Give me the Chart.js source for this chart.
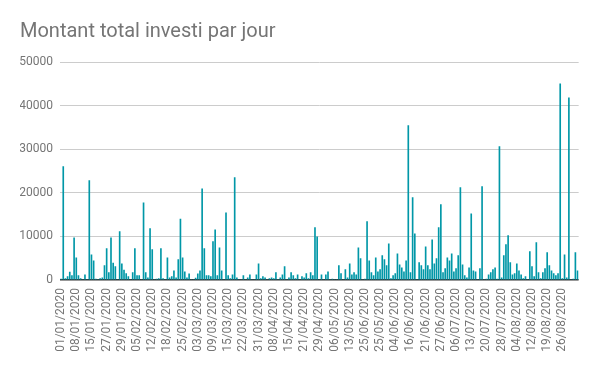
<!DOCTYPE html>
<html>
<head>
<meta charset="utf-8">
<title>Montant total investi par jour</title>
<script src="https://cdn.jsdelivr.net/npm/chart.js@4.4.1/dist/chart.umd.min.js"></script>
<style>
  html, body { margin: 0; padding: 0; background: #ffffff; }
  #wrap { width: 600px; height: 371px; }
</style>
</head>
<body>
<div id="wrap"><canvas id="chart" width="600" height="371"></canvas></div>
<script>
// Dates shown on the x axis (one label every 7 rows, as in the sheet)
const tickDates = [
    '01/01/2020', '08/01/2020', '15/01/2020', '27/01/2020', '29/01/2020', '05/02/2020',
    '12/02/2020', '18/02/2020', '25/02/2020', '03/03/2020', '09/03/2020', '15/03/2020',
    '22/03/2020', '31/03/2020', '08/04/2020', '15/04/2020', '21/04/2020', '29/04/2020',
    '06/05/2020', '13/05/2020', '25/06/2020', '25/05/2020', '04/06/2020', '16/06/2020',
    '21/06/2020', '27/06/2020', '06/07/2020', '13/07/2020', '20/07/2020', '28/07/2020',
    '04/08/2020', '12/08/2020', '19/08/2020', '26/08/2020'
];
const labelStep = 7;

// Amount invested per row
const montants = [
    200, 26000, 300, 760, 1800, 1000, 9700, 5100, 1000, 300,
    0, 1200, 0, 22800, 5800, 4400, 200, 0, 300, 500,
    3300, 7200, 1700, 9700, 3900, 3100, 0, 11100, 3700, 2300,
    1450, 760, 0, 1700, 7200, 1000, 1000, 0, 17700, 1700,
    500, 11800, 7000, 0, 200, 300, 7200, 300, 0, 5100,
    500, 760, 2100, 500, 4700, 14000, 5100, 1900, 500, 1400,
    0, 0, 460, 1400, 2100, 20900, 7200, 1000, 1000, 760,
    8800, 11500, 1000, 7400, 2100, 0, 15400, 1000, 300, 1200,
    23500, 500, 0, 0, 1000, 0, 500, 1200, 0, 0,
    1200, 3700, 300, 760, 500, 0, 300, 500, 300, 1700,
    0, 500, 1200, 3100, 0, 500, 1700, 1000, 300, 1200,
    0, 760, 500, 1450, 300, 1700, 1000, 12000, 9900, 0,
    1200, 0, 1200, 1900, 0, 200, 0, 0, 3300, 1450,
    0, 2400, 500, 3700, 1200, 1700, 1200, 7400, 4900, 0,
    200, 13400, 4400, 1700, 1000, 5100, 1900, 2400, 5600, 4700,
    3300, 8300, 300, 1000, 1450, 6000, 3500, 2800, 1900, 4400,
    35400, 1700, 18900, 10600, 0, 4000, 3300, 2400, 7600, 3300,
    2400, 9200, 3700, 4900, 12000, 17300, 1700, 2600, 5100, 4400,
    6000, 1900, 2600, 5600, 21200, 3500, 1000, 500, 2800, 15200,
    2100, 1900, 0, 2600, 21400, 0, 200, 1200, 1700, 2400,
    2800, 200, 30600, 500, 5600, 8100, 10200, 4000, 1200, 1450,
    3700, 2100, 1200, 300, 760, 0, 6500, 3100, 760, 8600,
    1700, 300, 1700, 2600, 6300, 3300, 2100, 1450, 1000, 1450,
    45000, 300, 5800, 500, 41800, 0, 200, 6300, 2100
];

const yTicks = [0, 10000, 20000, 30000, 40000, 50000];

// one category per row, only every 7th gets its date
const categories = montants.map((v, i) => (i % labelStep === 0 ? tickDates[i / labelStep] || '' : ''));

const textColor = '#757575';
const fontFamily = 'Roboto, "Noto Sans", sans-serif';

new Chart(document.getElementById('chart'), {
    type: 'bar',
    data: {
        labels: categories,
        datasets: [{
            label: 'Montant total investi',
            data: montants,
            backgroundColor: '#0097a7',
            borderWidth: 0,
            barThickness: 1,
        }]
    },
    options: {
        responsive: false,
        animation: false,
        devicePixelRatio: 1,
        layout: {
            padding: { left: 20, right: 18, top: 0, bottom: 0 }
        },
        plugins: {
            legend: { display: false },
            tooltip: { enabled: false },
            title: {
                display: true,
                text: 'Montant total investi par jour',
                align: 'start',
                color: textColor,
                font: { family: fontFamily, size: 20, weight: 'normal' },
                padding: { top: 20, bottom: 18 }
            }
        },
        scales: {
            x: {
                type: 'category',
                offset: true,
                grid: { display: false, drawTicks: false },
                border: { display: false },
                ticks: {
                    autoSkip: false,
                    minRotation: 90,
                    maxRotation: 90,
                    padding: 8,
                    color: textColor,
                    font: { family: fontFamily, size: 12 },
                    callback: function(value, index) {
                        return categories[index];
                    }
                },
                afterFit: function(scale) {
                    scale.height = 91;
                }
            },
            y: {
                min: 0,
                max: 50000,
                afterBuildTicks: function(scale) {
                    scale.ticks = yTicks.map(v => ({ value: v }));
                },
                grid: {
                    drawTicks: false,
                    color: ctx => (ctx.tick && ctx.tick.value === 0 ? '#333333' : '#cccccc'),
                    lineWidth: ctx => (ctx.tick && ctx.tick.value === 0 ? 1.5 : 1)
                },
                border: { display: false },
                ticks: {
                    padding: 7,
                    color: textColor,
                    font: { family: fontFamily, size: 12 },
                    callback: value => String(value)
                },
                afterFit: function(scale) {
                    scale.width = 40;
                }
            }
        }
    }
});
</script>
</body>
</html>
